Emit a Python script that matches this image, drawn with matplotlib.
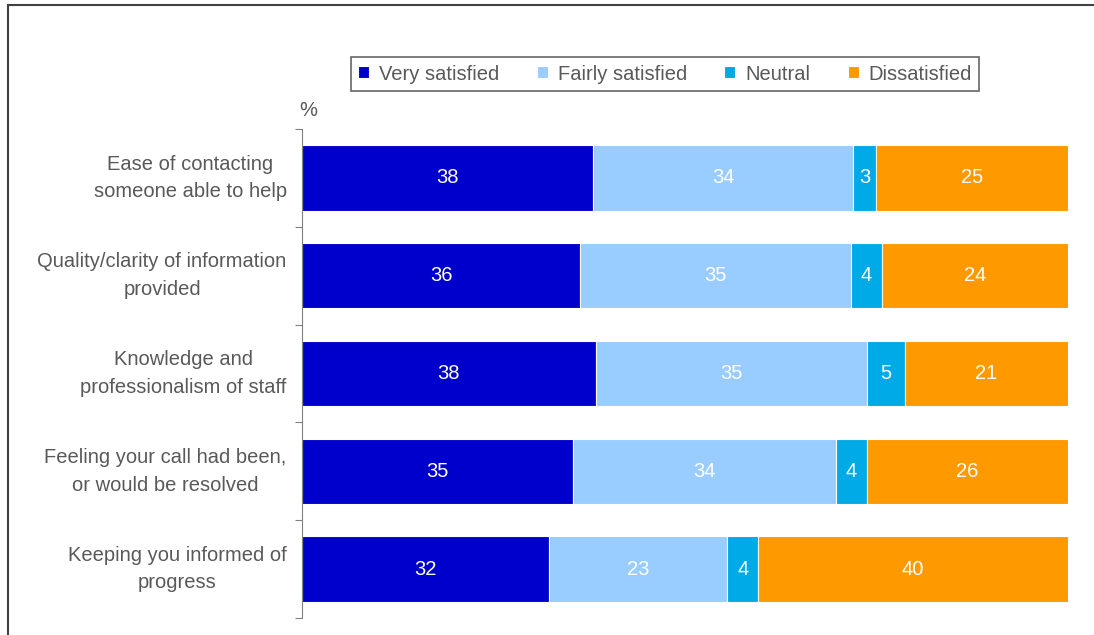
import matplotlib

matplotlib.use("Agg")
import matplotlib.pyplot as plt
from matplotlib.patches import Rectangle

plt.rcParams["font.family"] = ["Liberation Sans", "DejaVu Sans"]

categories = [
    "Ease of contacting\nsomeone able to help",
    "Quality/clarity of information\nprovided",
    "Knowledge and\nprofessionalism of staff",
    "Feeling your call had been,\nor would be resolved",
    "Keeping you informed of\nprogress",
]
series_names = ["Very satisfied", "Fairly satisfied", "Neutral", "Dissatisfied"]
very_satisfied = [38, 36, 38, 35, 32]
fairly_satisfied = [34, 35, 35, 34, 23]
neutral = [3, 4, 5, 4, 4]
dissatisfied = [25, 24, 21, 26, 40]
colors = ["#0000CC", "#99CCFF", "#00AAE6", "#FF9900"]

TEXT_GREY = "#595959"
FS = 14.5

series = [very_satisfied, fairly_satisfied, neutral, dissatisfied]
totals = [sum(vals) for vals in zip(*series)]

fig = plt.figure(figsize=(10.94, 6.35), dpi=100)
ax = fig.add_axes([0.276, 0.0268, 0.7, 0.7701])

# outer chart frame (runs off the right and bottom edges)
fig.patches.append(Rectangle((8 / 1094, -0.05), 1.2, 1 - 5 / 635 + 0.05,
                             transform=fig.transFigure, fill=False,
                             edgecolor="#404040", linewidth=1.5))

y = list(range(len(categories)))
left = [0.0] * len(categories)
for name, vals, color in zip(series_names, series, colors):
    widths = [v / t * 100 for v, t in zip(vals, totals)]
    ax.barh(y, widths, left=left, height=0.67, color=color,
            edgecolor="white", linewidth=0.8, label=name)
    for yi, lft, w, v in zip(y, left, widths, vals):
        ax.text(lft + w / 2, yi, f"{v}", ha="center", va="center",
                color="white", fontsize=FS)
    left = [a + b for a, b in zip(left, widths)]

ax.set_xlim(0, 100)
ax.set_ylim(len(categories) - 0.5, -0.5)

for side in ["top", "right", "bottom"]:
    ax.spines[side].set_visible(False)
ax.spines["left"].set_color("#808080")
ax.set_xticks([])

# category boundaries carry the tick marks, labels sit at bar centres
ax.set_yticks([i - 0.5 for i in range(len(categories) + 1)])
ax.set_yticklabels([])
ax.tick_params(axis="y", length=5, color="#808080", direction="out")
for yi, label in zip(y, categories):
    ax.text(-2.0, yi, label, ha="right", va="center", multialignment="center",
            color=TEXT_GREY, fontsize=FS, linespacing=1.58)

fig.text(308 / 1094, 1 - 110 / 635, "%", ha="center", va="center",
         color=TEXT_GREY, fontsize=FS)

leg = fig.legend(loc="center", bbox_to_anchor=(665 / 1094, 1 - 74 / 635),
                 ncol=4, frameon=True, fancybox=False, fontsize=FS,
                 handlelength=0.55, handleheight=0.55, handletextpad=0.5,
                 columnspacing=1.85, borderpad=0.35)
leg.get_frame().set_edgecolor("#404040")
leg.get_frame().set_linewidth(1.2)
for t in leg.get_texts():
    t.set_color(TEXT_GREY)

fig.savefig("out.png", dpi=100)
